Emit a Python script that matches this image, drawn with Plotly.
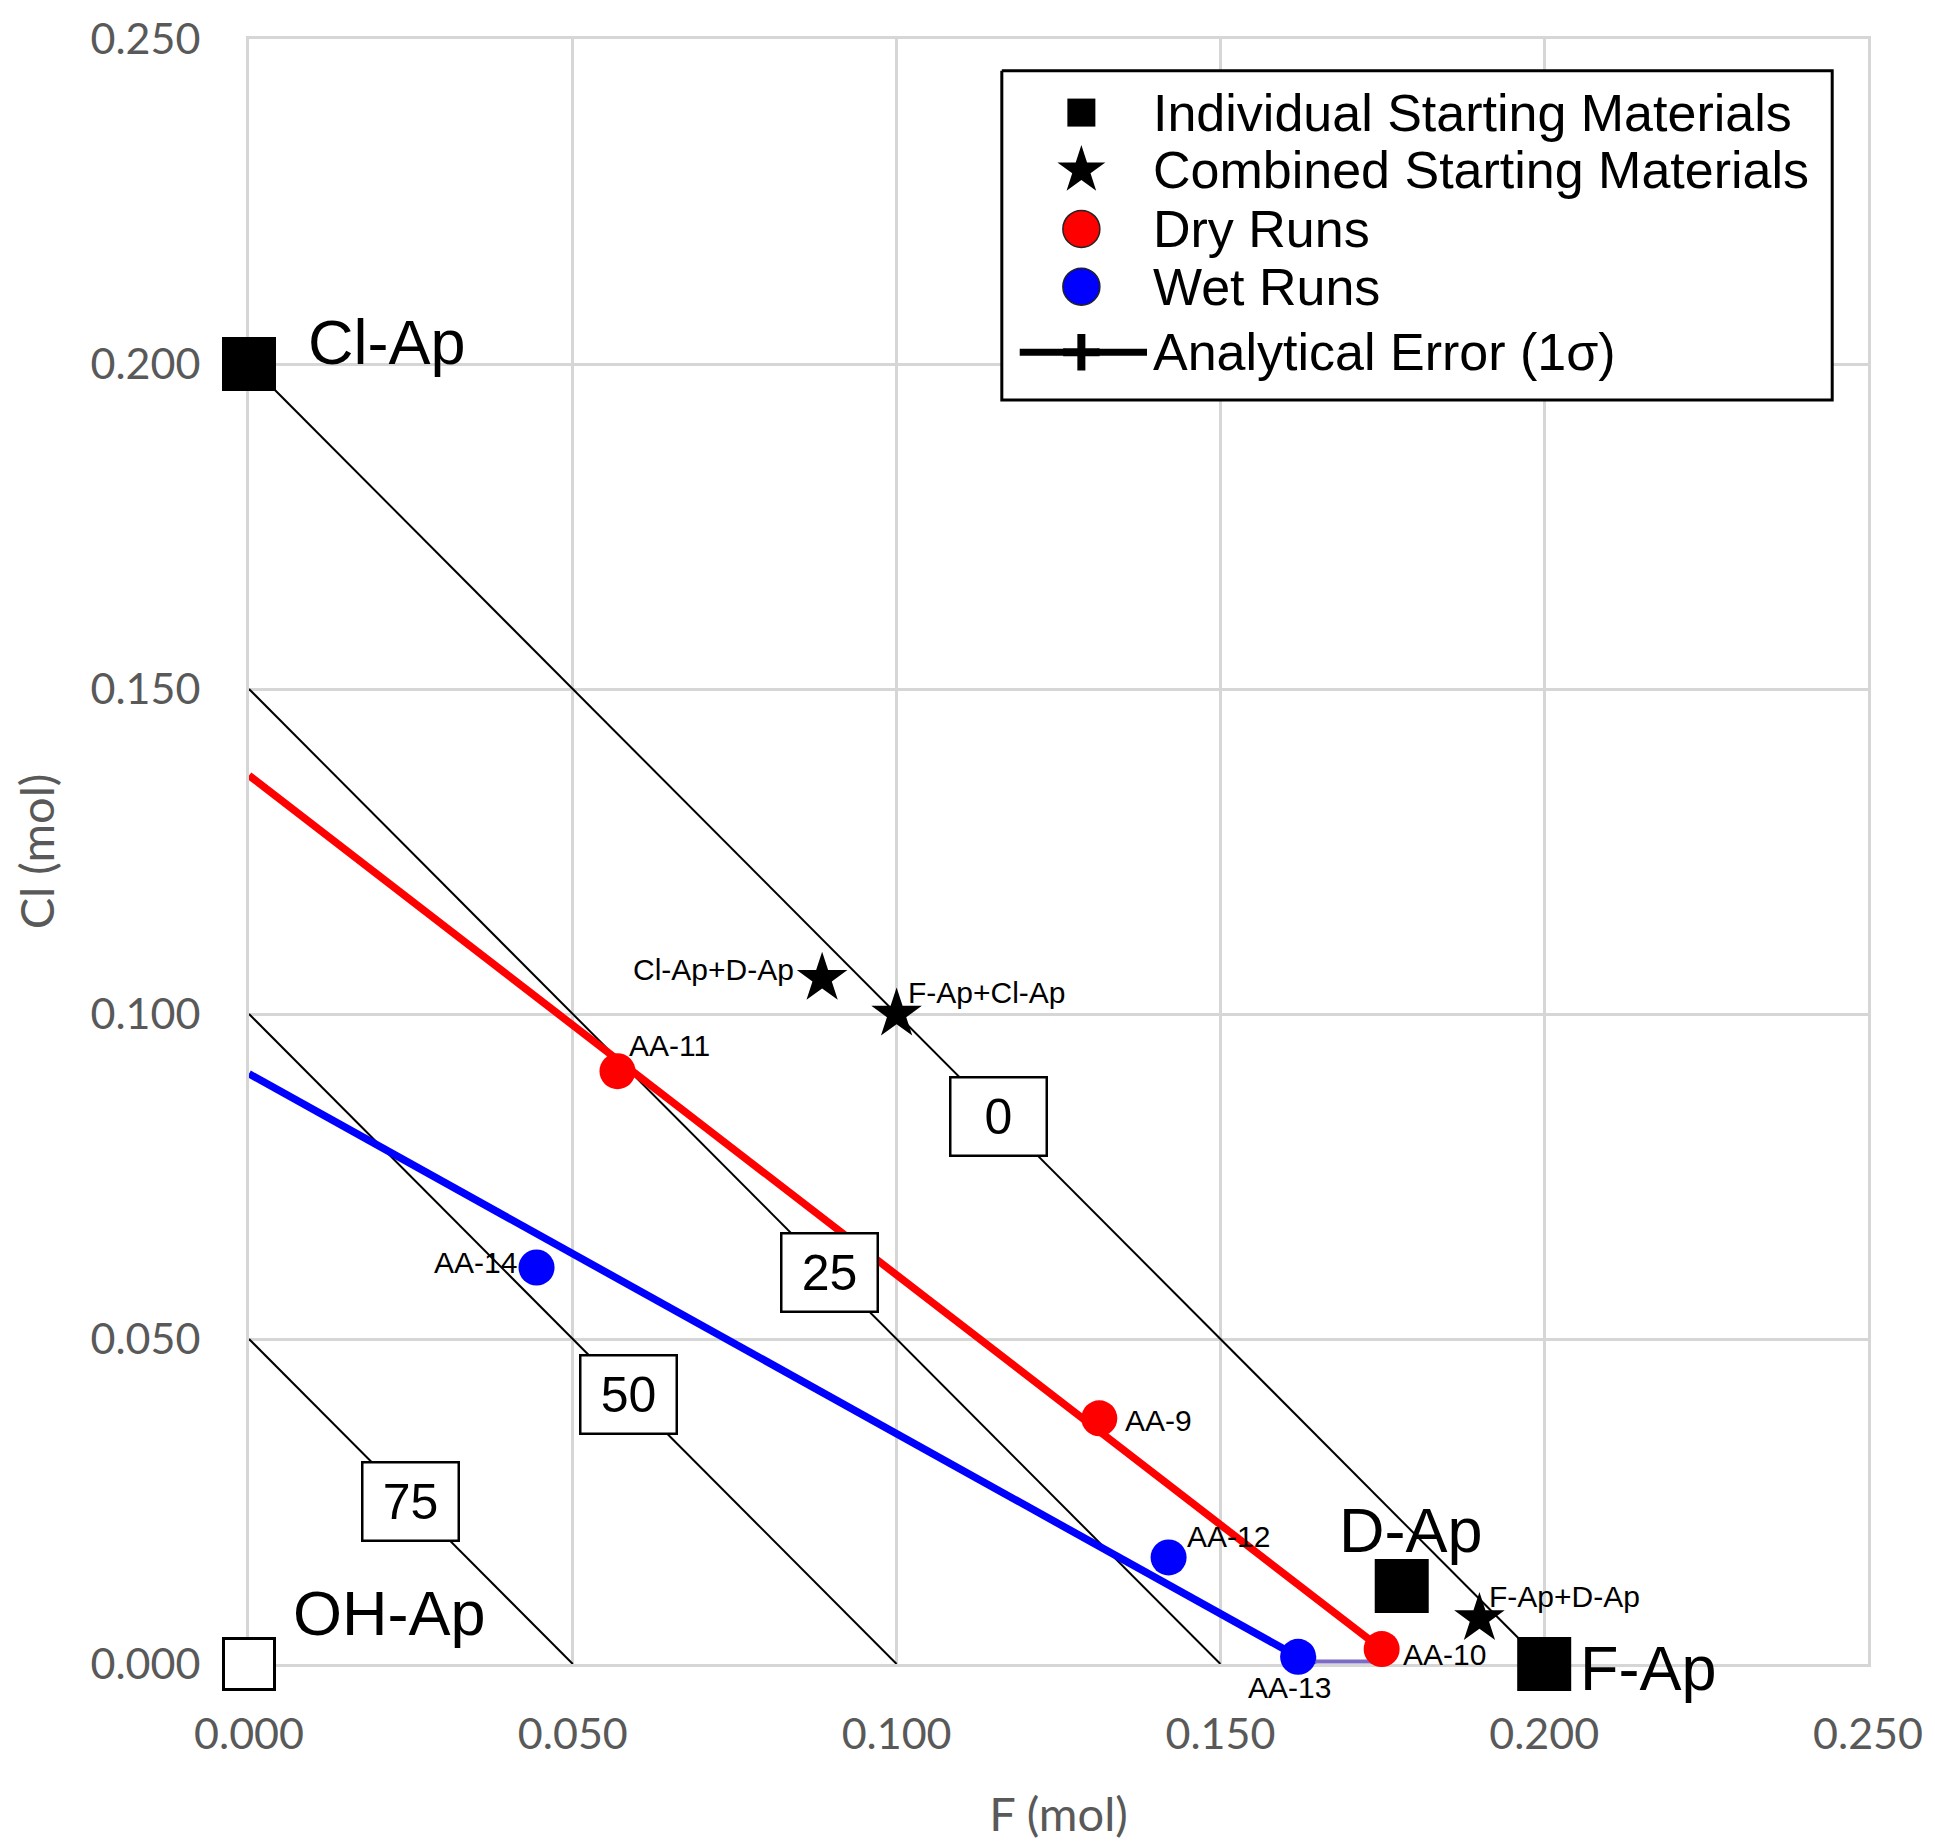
import plotly.graph_objects as go

# ---------------- data ----------------
x_tickvals = [0.000, 0.050, 0.100, 0.150, 0.200, 0.250]
x_ticktext = ["0.000", "0.050", "0.100", "0.150", "0.200", "0.250"]
y_tickvals = [0.000, 0.050, 0.100, 0.150, 0.200, 0.250]
y_ticktext = ["0.000", "0.050", "0.100", "0.150", "0.200", "0.250"]

# OH isopleths (F + Cl = total) and their labels (% OH)
iso_totals = [0.200, 0.150, 0.100, 0.050]
iso_labels = ["0", "25", "50", "75"]
iso_label_x = [0.1158, 0.0897, 0.0586, 0.0250]

# individual starting materials
indiv_names = ["Cl-Ap", "F-Ap", "D-Ap"]
indiv_x = [0.000, 0.200, 0.178]
indiv_y = [0.200, 0.000, 0.012]
oh_names = ["OH-Ap"]
oh_x = [0.000]
oh_y = [0.000]

# combined starting materials
comb_names = ["Cl-Ap+D-Ap", "F-Ap+Cl-Ap", "F-Ap+D-Ap"]
comb_x = [0.0885, 0.100, 0.190]
comb_y = [0.1055, 0.100, 0.007]

# dry runs
dry_names = ["AA-11", "AA-9", "AA-10"]
dry_x = [0.0569, 0.1313, 0.1749]
dry_y = [0.0912, 0.0378, 0.0023]

# wet runs
wet_names = ["AA-14", "AA-12", "AA-13"]
wet_x = [0.0444, 0.1420, 0.1620]
wet_y = [0.0610, 0.0164, 0.0011]

# trend lines
dry_fit_x = [0.000, 0.1749]
dry_fit_y = [0.1367, 0.0023]
wet_fit_x = [0.000, 0.1620]
wet_fit_y = [0.0908, 0.0011]

# analytical error bar (1 sigma)
err_x = [0.1690]
err_y = [0.0004]
err_half = [0.0045]

legend_labels = ["Individual Starting Materials", "Combined Starting Materials",
                 "Dry Runs", "Wet Runs", "Analytical Error (1\u03c3)"]

# ---------------- layout constants ----------------
W, H = 1935, 1844
ML, MR, MT, MB = 249, 58, 37, 173
PW, PH = W - ML - MR, H - MT - MB

def px_x(px):
    return (px - ML) / PW

def px_y(py):
    return (H - MB - py) / PH

ARIAL = "Liberation Sans, Arial, sans-serif"
AXFONT = "Lato, Open Sans, sans-serif"
GRAY = "#595959"
GRID = "#d6d6d6"

fig = go.Figure()

# isopleth lines
for t in iso_totals:
    fig.add_trace(go.Scatter(x=[0, t], y=[t, 0], mode="lines",
                             line=dict(color="black", width=2),
                             showlegend=False, hoverinfo="skip", cliponaxis=False))

# trend lines
fig.add_trace(go.Scatter(x=dry_fit_x, y=dry_fit_y, mode="lines",
                         line=dict(color="#ff0000", width=7.5), showlegend=False))
fig.add_trace(go.Scatter(x=wet_fit_x, y=wet_fit_y, mode="lines",
                         line=dict(color="#0000ff", width=7.5), showlegend=False))

# error bar
fig.add_trace(go.Scatter(x=err_x, y=err_y, mode="markers",
                         marker=dict(size=1, color="rgba(0,0,0,0)"),
                         error_x=dict(type="data", array=err_half, color="#7d6cc4",
                                      thickness=4, width=6),
                         showlegend=False, cliponaxis=False))

# combined (stars)
fig.add_trace(go.Scatter(x=comb_x, y=comb_y, mode="markers",
                         marker=dict(symbol="star", size=38, color="black"),
                         showlegend=False, cliponaxis=False))

# dry / wet runs
fig.add_trace(go.Scatter(x=dry_x, y=dry_y, mode="markers",
                         marker=dict(symbol="circle", size=36, color="#ff0000", line=dict(width=0)),
                         showlegend=False, cliponaxis=False))
fig.add_trace(go.Scatter(x=wet_x, y=wet_y, mode="markers",
                         marker=dict(symbol="circle", size=36, color="#0000ff", line=dict(width=0)),
                         showlegend=False, cliponaxis=False))

# individual (squares)
fig.add_trace(go.Scatter(x=indiv_x, y=indiv_y, mode="markers",
                         marker=dict(symbol="square", size=54, color="black"),
                         showlegend=False, cliponaxis=False))
fig.add_trace(go.Scatter(x=oh_x, y=oh_y, mode="markers",
                         marker=dict(symbol="square", size=51, color="white",
                                     line=dict(color="black", width=3)),
                         showlegend=False, cliponaxis=False))

annotations = []

# isopleth label boxes
for t, lab, lx in zip(iso_totals, iso_labels, iso_label_x):
    annotations.append(dict(x=lx, y=t - lx, xref="x", yref="y", text=lab, showarrow=False,
                            font=dict(family=ARIAL, size=50, color="black"),
                            bgcolor="white", bordercolor="black", borderwidth=2.5,
                            borderpad=3, width=88, height=70, align="center",
                            xanchor="center", yanchor="middle"))

# big labels for end-members
big = {"Cl-Ap": (indiv_x[0], indiv_y[0], "left", 57, 22),
       "F-Ap": (indiv_x[1], indiv_y[1], "left", 34, -4),
       "D-Ap": (indiv_x[2], indiv_y[2], "center", 9, 56),
       "OH-Ap": (oh_x[0], oh_y[0], "left", 42, 51)}
for name, (bx, by, anc, xs, ys) in big.items():
    annotations.append(dict(x=bx, y=by, xref="x", yref="y", text=name, showarrow=False,
                            font=dict(family=ARIAL, size=63, color="black"),
                            xanchor=anc, yanchor="middle", xshift=xs, yshift=ys))

# small labels
small_offsets = {
    "Cl-Ap+D-Ap": ("right", -26, 9),
    "F-Ap+Cl-Ap": ("left", 9, 22),
    "F-Ap+D-Ap": ("left", 8, 22),
    "AA-11": ("left", 10, 26),
    "AA-9": ("left", 24, -2),
    "AA-10": ("left", 19, -5),
    "AA-14": ("right", -18, 5),
    "AA-12": ("left", 16, 21),
    "AA-13": ("center", -9, -31),
}
for names, xs_, ys_ in [(comb_names, comb_x, comb_y), (dry_names, dry_x, dry_y),
                         (wet_names, wet_x, wet_y)]:
    for n, px, py in zip(names, xs_, ys_):
        anc, dx, dy = small_offsets[n]
        annotations.append(dict(x=px, y=py, xref="x", yref="y", text=n, showarrow=False,
                                font=dict(family=ARIAL, size=30, color="black"),
                                xanchor=anc, yanchor="middle", xshift=dx, yshift=dy))

# ---------------- manual legend (overlay axes in paper-like units) ----------------
LB = dict(x0=1006, x1=1841, y0=69, y1=400)
sym_x = px_x(1086)
txt_x = px_x(1159)
rows = [px_y(v) for v in (111, 169, 228, 286, 352)]

fig.add_trace(go.Scatter(x=[px_x(LB["x0"]), px_x(LB["x1"]), px_x(LB["x1"]), px_x(LB["x0"]), px_x(LB["x0"])],
                         y=[px_y(LB["y0"]), px_y(LB["y0"]), px_y(LB["y1"]), px_y(LB["y1"]), px_y(LB["y0"])],
                         mode="lines", fill="toself", fillcolor="white",
                         line=dict(color="black", width=3),
                         xaxis="x2", yaxis="y2", showlegend=False, hoverinfo="skip"))
fig.add_trace(go.Scatter(x=[sym_x], y=[rows[0]], mode="markers",
                         marker=dict(symbol="square", size=28, color="black"),
                         xaxis="x2", yaxis="y2", showlegend=False, hoverinfo="skip"))
fig.add_trace(go.Scatter(x=[sym_x], y=[rows[1]], mode="markers",
                         marker=dict(symbol="star", size=36, color="black"),
                         xaxis="x2", yaxis="y2", showlegend=False, hoverinfo="skip"))
fig.add_trace(go.Scatter(x=[sym_x], y=[rows[2]], mode="markers",
                         marker=dict(symbol="circle", size=37, color="#ff0000",
                                     line=dict(color="#222222", width=1.5)),
                         xaxis="x2", yaxis="y2", showlegend=False, hoverinfo="skip"))
fig.add_trace(go.Scatter(x=[sym_x], y=[rows[3]], mode="markers",
                         marker=dict(symbol="circle", size=37, color="#0000ff",
                                     line=dict(color="#222222", width=1.5)),
                         xaxis="x2", yaxis="y2", showlegend=False, hoverinfo="skip"))
fig.add_trace(go.Scatter(x=[px_x(1024), px_x(1070)], y=[rows[4], rows[4]], mode="lines",
                         line=dict(color="black", width=7),
                         xaxis="x2", yaxis="y2", showlegend=False, hoverinfo="skip"))
fig.add_trace(go.Scatter(x=[px_x(1102), px_x(1152)], y=[rows[4], rows[4]], mode="lines",
                         line=dict(color="black", width=7),
                         xaxis="x2", yaxis="y2", showlegend=False, hoverinfo="skip"))
fig.add_trace(go.Scatter(x=[sym_x], y=[rows[4]], mode="markers",
                         marker=dict(symbol="cross-thin", size=26, color="black",
                                     line=dict(color="black", width=8)),
                         xaxis="x2", yaxis="y2", showlegend=False, hoverinfo="skip"))

for lab, ry in zip(legend_labels, rows):
    annotations.append(dict(x=txt_x, y=ry, xref="paper", yref="paper", text=lab, showarrow=False,
                            font=dict(family=ARIAL, size=52, color="black"),
                            xanchor="left", yanchor="middle", xshift=-3))

axis_common = dict(range=[0, 0.25], showgrid=True, gridcolor=GRID, gridwidth=3,
                   zeroline=False, showline=True, mirror=True, linecolor=GRID, linewidth=3,
                   layer="below traces",
                   ticks="", tickfont=dict(family=AXFONT, size=43, color=GRAY))

fig.update_layout(
    width=W, height=H, autosize=False,
    margin=dict(l=ML, r=MR, t=MT, b=MB, pad=0),
    paper_bgcolor="white", plot_bgcolor="white",
    showlegend=False,
    xaxis=dict(axis_common, tickvals=x_tickvals, ticktext=x_ticktext, ticklabelstandoff=30,
               title=dict(text="F (mol)", font=dict(family=AXFONT, size=47, color=GRAY), standoff=42)),
    yaxis=dict(axis_common, tickvals=y_tickvals, ticktext=y_ticktext, ticklabelstandoff=37,
               title=dict(text="Cl (mol)", font=dict(family=AXFONT, size=47, color=GRAY), standoff=22)),
    xaxis2=dict(overlaying="x", range=[0, 1], visible=False, anchor="y2"),
    yaxis2=dict(overlaying="y", range=[0, 1], visible=False, anchor="x2"),
    annotations=annotations,
)

fig.write_html("out.html")
